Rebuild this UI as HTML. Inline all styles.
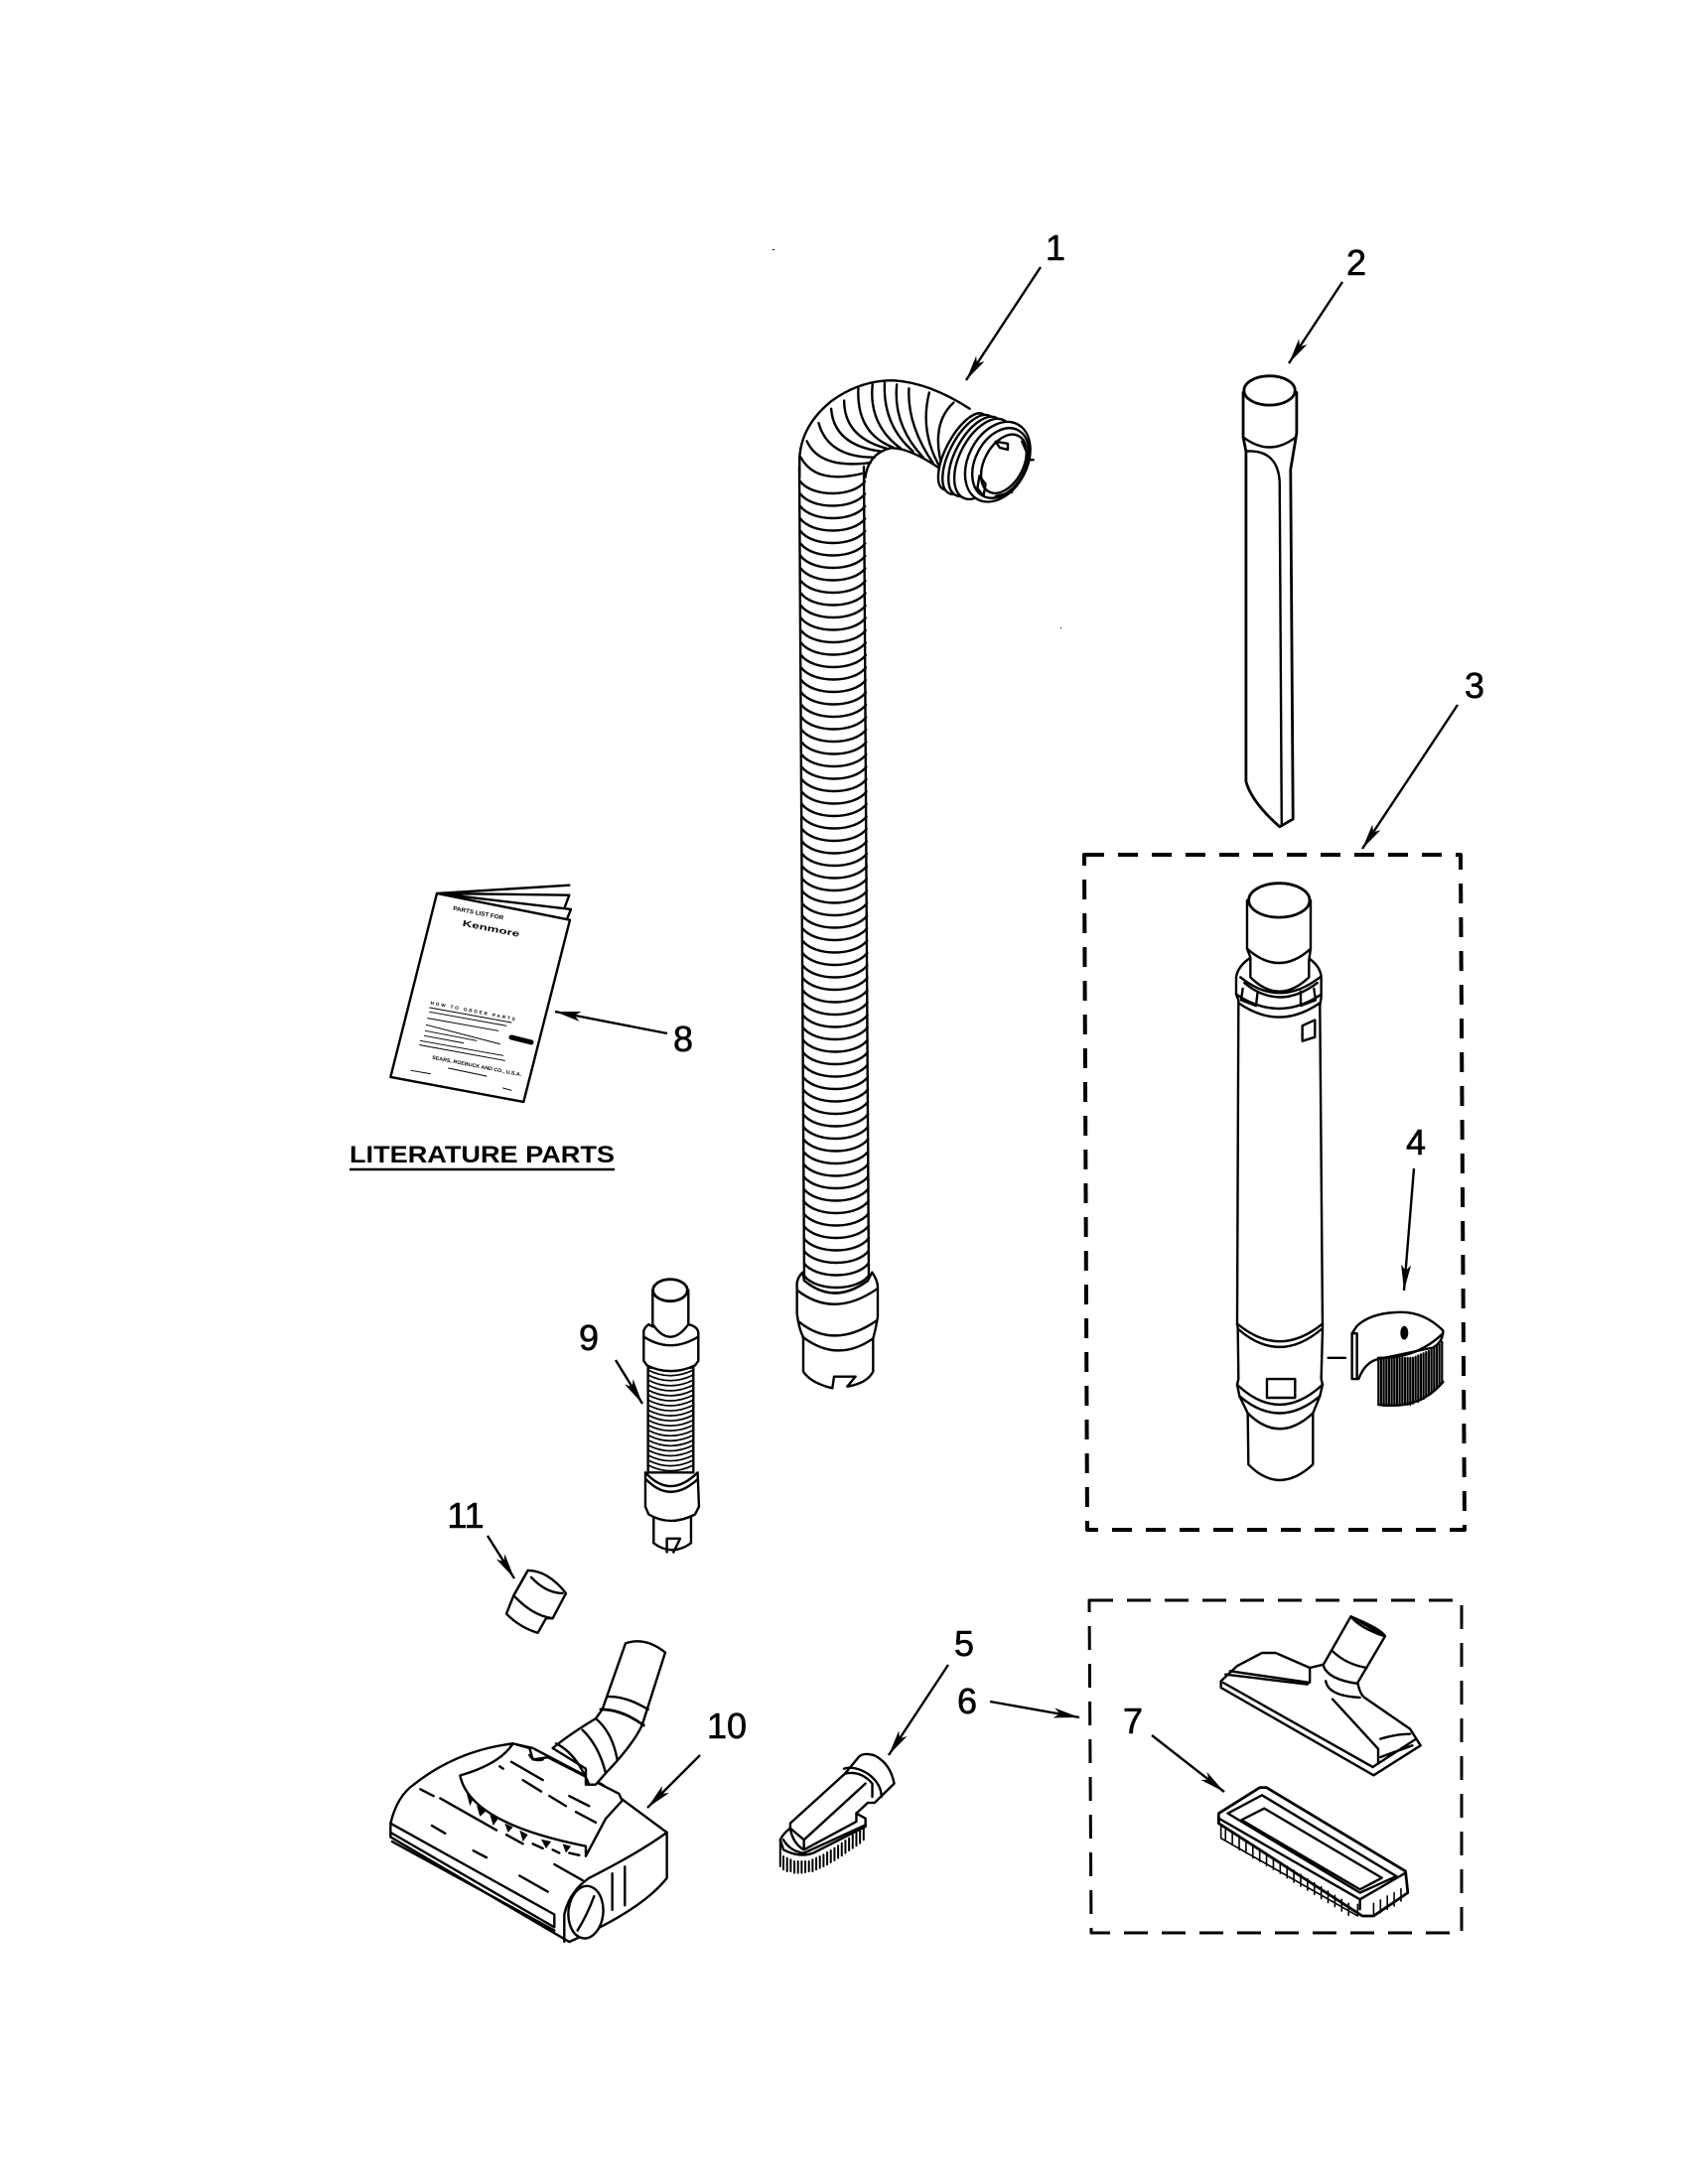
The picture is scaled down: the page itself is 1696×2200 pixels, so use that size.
<!DOCTYPE html>
<html><head><meta charset="utf-8"><style>
html,body{margin:0;padding:0;background:#fff}
svg{display:block}
path,line,ellipse,polygon,polyline,rect{vector-effect:non-scaling-stroke}
.l{fill:none;stroke:#000;stroke-width:2.4;stroke-linejoin:round;stroke-linecap:round}
.w{fill:#fff;stroke:#000;stroke-width:2.4;stroke-linejoin:round}
.t{font-family:"Liberation Sans",sans-serif;font-size:36px;text-anchor:middle;fill:#000;stroke:#000;stroke-width:.6}
.a{stroke:#000;stroke-width:2.4;fill:none;marker-end:url(#h)}
</style></head><body>
<svg xmlns="http://www.w3.org/2000/svg" width="1696" height="2200" viewBox="0 0 1696 2200">
<defs><marker id="h" markerUnits="userSpaceOnUse" markerWidth="26" markerHeight="12" refX="26" refY="6" orient="auto"><path d="M0 1L26 6L0 11L6 6z" fill="#000"/></marker></defs>
<rect width="1696" height="2200" fill="#fff"/>

<!-- arrows -->
<line class="a" x1="1048" y1="269" x2="973" y2="383"/>
<line class="a" x1="1352" y1="284" x2="1298" y2="366"/>
<line class="a" x1="1468" y1="710" x2="1372" y2="855"/>
<line class="a" x1="1424" y1="1177" x2="1414" y2="1300"/>
<line class="a" x1="672" y1="1041" x2="559" y2="1019"/>
<line class="a" x1="620" y1="1370" x2="647" y2="1414"/>
<line class="a" x1="491" y1="1547" x2="518" y2="1590"/>
<line class="a" x1="705" y1="1768" x2="652" y2="1821"/>
<line class="a" x1="955" y1="1677" x2="895" y2="1768"/>
<line class="a" x1="997" y1="1714" x2="1087" y2="1730"/>
<line class="a" x1="1160" y1="1748" x2="1233" y2="1805"/>

<!-- labels -->
<text class="t" x="1063" y="262">1</text>
<text class="t" x="1366" y="277">2</text>
<text class="t" x="1485" y="703">3</text>
<text class="t" x="1426" y="1163">4</text>
<text class="t" x="971" y="1668">5</text>
<text class="t" x="974" y="1726">6</text>
<text class="t" x="1141" y="1746">7</text>
<text class="t" x="688" y="1059">8</text>
<text class="t" x="593" y="1360">9</text>
<text class="t" x="732" y="1751">10</text>
<text class="t" x="469" y="1539">11</text>
<text x="352" y="1171" font-family="Liberation Sans,sans-serif" font-weight="bold" font-size="24" textLength="267" lengthAdjust="spacingAndGlyphs">LITERATURE PARTS</text>
<line x1="352" y1="1178" x2="619" y2="1178" stroke="#000" stroke-width="2.5"/>

<!-- specks -->
<rect x="778" y="251" width="2" height="1" fill="#000"/><rect x="1068" y="632" width="1" height="1" fill="#000"/>

<!-- dashed boxes -->
<path class="l" style="stroke-width:4;stroke-linecap:butt" stroke-dasharray="20 14" d="M1092 861H1471L1475 1541H1095Z"/>
<path class="l" style="stroke-width:3;stroke-linecap:butt" stroke-dasharray="24 14" d="M1097 1612H1472V1947H1099Z"/>

<!-- hose 1 straight -->
<path class="l" d="M805 470L810 1292M870 470L875 1292"/>
<path class="l" d="M806 485c12 16 53 16 65 0m-64.94 12.5c12 16 53 16 65 0m-64.94 12.5c12 16 53 16 65 0m-64.94 12.5c12 16 53 16 65 0m-64.94 12.5c12 16 53 16 65 0m-64.94 12.5c12 16 53 16 65 0m-64.94 12.5c12 16 53 16 65 0m-64.94 12.5c12 16 53 16 65 0m-64.94 12.5c12 16 53 16 65 0m-64.94 12.5c12 16 53 16 65 0m-64.94 12.5c12 16 53 16 65 0m-64.94 12.5c12 16 53 16 65 0m-64.94 12.5c12 16 53 16 65 0m-64.94 12.5c12 16 53 16 65 0m-64.94 12.5c12 16 53 16 65 0m-64.94 12.5c12 16 53 16 65 0m-64.94 12.5c12 16 53 16 65 0m-64.94 12.5c12 16 53 16 65 0m-64.94 12.5c12 16 53 16 65 0m-64.94 12.5c12 16 53 16 65 0m-64.94 12.5c12 16 53 16 65 0m-64.94 12.5c12 16 53 16 65 0m-64.94 12.5c12 16 53 16 65 0m-64.94 12.5c12 16 53 16 65 0m-64.94 12.5c12 16 53 16 65 0m-64.94 12.5c12 16 53 16 65 0m-64.94 12.5c12 16 53 16 65 0m-64.94 12.5c12 16 53 16 65 0m-64.94 12.5c12 16 53 16 65 0m-64.94 12.5c12 16 53 16 65 0m-64.94 12.5c12 16 53 16 65 0m-64.94 12.5c12 16 53 16 65 0m-64.94 12.5c12 16 53 16 65 0m-64.94 12.5c12 16 53 16 65 0m-64.94 12.5c12 16 53 16 65 0m-64.94 12.5c12 16 53 16 65 0m-64.94 12.5c12 16 53 16 65 0m-64.94 12.5c12 16 53 16 65 0m-64.94 12.5c12 16 53 16 65 0m-64.94 12.5c12 16 53 16 65 0m-64.94 12.5c12 16 53 16 65 0m-64.94 12.5c12 16 53 16 65 0m-64.94 12.5c12 16 53 16 65 0m-64.94 12.5c12 16 53 16 65 0m-64.94 12.5c12 16 53 16 65 0m-64.94 12.5c12 16 53 16 65 0m-64.94 12.5c12 16 53 16 65 0m-64.94 12.5c12 16 53 16 65 0m-64.94 12.5c12 16 53 16 65 0m-64.94 12.5c12 16 53 16 65 0m-64.94 12.5c12 16 53 16 65 0m-64.94 12.5c12 16 53 16 65 0m-64.94 12.5c12 16 53 16 65 0m-64.94 12.5c12 16 53 16 65 0m-64.94 12.5c12 16 53 16 65 0m-64.94 12.5c12 16 53 16 65 0m-64.94 12.5c12 16 53 16 65 0m-64.94 12.5c12 16 53 16 65 0m-64.94 12.5c12 16 53 16 65 0m-64.94 12.5c12 16 53 16 65 0m-64.94 12.5c12 16 53 16 65 0m-64.94 12.5c12 16 53 16 65 0m-64.94 12.5c12 16 53 16 65 0m-64.94 12.5c12 16 53 16 65 0m-64.94 12.5c12 16 53 16 65 0m-64.94 12.5c12 16 53 16 65 0"/>

<!-- hose bottom cuff: crop 5 -->
<g transform="matrix(.3333 0 0 .3333 740 1200)">
<path class="w" d="M205 245Q185 265 188 290V370Q195 420 207 440V545Q230 580 295 595L300 560H365L340 590Q400 580 418 545V445Q425 420 432 380V290Q432 270 415 245L402 270Q300 345 210 270Z"/>
<path class="l" d="M190 300Q300 385 430 295M195 395Q300 480 430 390M205 440Q310 520 418 445M210 270Q300 345 402 270"/>
</g>

<!-- hose bend + crevice tool: crop 1 -->
<g transform="matrix(.408 0 0 .408 740 220)">
<path class="l" d="M160 640V590Q165 510 240 450Q310 400 390 400Q480 405 580 470M322 640Q330 580 385 567Q430 565 510 620"/>
<path class="l" d="M163 590Q200 660 322 628M178 550Q210 620 335 603M207 505Q230 590 345 590M238 470Q245 560 360 575M270 450Q270 540 375 568M305 420Q300 530 390 565M340 410Q330 510 410 568M370 405Q365 510 440 575M400 410Q390 510 465 590M430 420Q425 510 490 605M480 430Q455 530 510 620M540 455Q480 510 515 625"/>
<g transform="translate(4 -4)">
<ellipse class="w" cx="560" cy="580" rx="42" ry="105" transform="rotate(28 560 580)"/>
<ellipse class="w" cx="575" cy="587" rx="48" ry="108" transform="rotate(28 575 587)"/>
<ellipse class="w" cx="592" cy="592" rx="52" ry="108" transform="rotate(28 592 592)"/>
<ellipse class="w" cx="610" cy="598" rx="58" ry="108" transform="rotate(28 610 598)"/>
<ellipse class="w" cx="645" cy="605" rx="72" ry="105" transform="rotate(28 645 605)"/>
<ellipse class="w" cx="652" cy="608" rx="62" ry="92" transform="rotate(28 652 608)"/>
<ellipse class="l" cx="660" cy="610" rx="48" ry="78" transform="rotate(28 660 610)"/>
<path class="l" d="M640 555L670 560V575L650 570ZM600 640L615 660L610 690L595 670ZM705 555L725 600H733M680 680L640 690"/>
</g>
<path class="w" style="stroke-width:2.8" d="M1255 430V540L1262 575V1390Q1275 1440 1345 1502L1378 1483L1372 620L1387 530V430Z"/>
<path class="l" d="M1255 540Q1320 590 1385 540M1262 575Q1340 570 1345 650L1350 1500"/>
<ellipse class="w" style="stroke-width:2.8" cx="1320" cy="425" rx="63" ry="36"/>
</g>

<!-- wand + clip: crop 2 -->
<g transform="matrix(.3333 0 0 .574 1060 640)">
<path class="w" d="M555 600Q560 580 600 565H770Q810 580 812 600V635L808 650L816 1208V1220L812 1305L816 1315L808 1335L787 1365V1455Q685 1510 592 1455L590 1365L565 1335L558 1315L562 1305L560 1215L558 1208L562 640L555 630Z"/>
<path class="w" d="M588 465V550L598 565V600Q685 650 775 600V570L780 550V465Z"/>
<ellipse class="w" style="stroke-width:2.8" cx="685" cy="465" rx="92" ry="30"/>
<path class="l" d="M588 550Q685 600 780 550M555 630Q685 680 812 630M562 645Q685 695 808 645M575 620L570 640L615 650L620 625M750 625L750 650L795 640L790 620M558 1208Q685 1270 816 1208M562 1218Q685 1280 812 1218M558 1315Q685 1385 816 1315M565 1335Q685 1395 808 1335M590 1365Q685 1420 787 1365M580 610Q685 660 800 610M568 600Q685 655 808 600"/>
<path class="l" d="M755 685L793 675V705L755 712ZM648 1305H733V1338H648ZM833 1268H885"/>
<path class="w" d="M905 1225V1305H925Q945 1275 985 1270L1150 1250Q1180 1240 1180 1220Q1120 1185 1040 1188Q960 1190 920 1212Z"/>
<path class="l" d="M905 1225H920V1305"/>
<ellipse cx="1063" cy="1224" rx="12" ry="12" fill="#000"/>
<path class="l" style="stroke-width:2.2" d="M985 1268V1350M993 1268V1351M1001 1268V1352M1009 1268V1352M1017 1268V1352M1025 1268V1352M1033 1268V1352M1041 1268V1350M1049 1268V1350M1057 1268V1350M1065 1268V1350M1073 1268V1350M1081 1268V1350M1089 1268V1348M1097 1266V1345M1105 1264V1345M1113 1262V1342M1121 1260V1340M1129 1258V1335M1137 1256V1332M1145 1254V1330M1153 1252V1326M1161 1248V1322M1169 1244V1316M1177 1240V1310"/>
<path class="l" d="M985 1268Q1100 1270 1180 1225M985 1350Q1110 1360 1180 1310"/>
</g>

<!-- booklet: crop 3 -->
<g transform="matrix(.3333 0 0 .3333 340 860)">
<path class="l" d="M300 120L700 95M300 120L700 125L685 165M300 120L705 168L692 200"/>
<path class="w" d="M300 120L160 675L562 750L702 200Z"/>
<g font-family="Liberation Sans,sans-serif" font-weight="bold">
<text transform="translate(348 170) rotate(11)" font-size="18" textLength="155" lengthAdjust="spacingAndGlyphs">PARTS LIST FOR</text>
<text transform="translate(376 218) rotate(11)" font-size="26" textLength="175" lengthAdjust="spacingAndGlyphs">Kenmore</text>
<text transform="translate(280 455) rotate(11)" font-size="14" textLength="260" lengthAdjust="spacing">HOW TO ORDER PARTS</text>
<text transform="translate(285 620) rotate(11)" font-size="15" textLength="275" lengthAdjust="spacingAndGlyphs">SEARS, ROEBUCK AND CO., U.S.A.</text>
</g>
<path class="l" style="stroke-width:1" d="M278 465L525 510M278 478L510 520M272 497L485 535M268 517L490 575M265 535L420 565M262 550L380 572M250 565L500 610M248 578L505 625M335 648L450 672M222 655L280 665M500 708L525 715"/>
<path class="l" style="stroke-width:5" d="M525 555L585 570"/>
</g>

<!-- flex 9, adapter 11, nozzle 10: crop 4 -->
<g transform="matrix(.3333 0 0 .459 360 1240)">
<path class="w" d="M878 300V530H1015V300Z"/>
<path class="l" style="stroke-width:1.7" d="M878 305Q945 330 1015 305M878 316Q945 341 1015 316M878 327Q945 352 1015 327M878 338Q945 363 1015 338M878 349Q945 374 1015 349M878 360Q945 385 1015 360M878 371Q945 396 1015 371M878 382Q945 407 1015 382M878 393Q945 418 1015 393M878 404Q945 429 1015 404M878 415Q945 440 1015 415M878 426Q945 451 1015 426M878 437Q945 462 1015 437M878 448Q945 473 1015 448M878 459Q945 484 1015 459M878 470Q945 495 1015 470M878 481Q945 506 1015 481M878 492Q945 517 1015 492M878 503Q945 528 1015 503M878 514Q945 539 1015 514"/>
<path class="w" d="M892 130V210L880 205Q862 215 865 225V285L875 295Q945 320 1020 295L1030 285V225Q1030 210 1000 205V130Z"/>
<path class="l" d="M892 205Q945 260 1000 205M865 232Q945 270 1030 232"/>
<ellipse class="w" style="stroke-width:2.8" cx="945" cy="130" rx="52" ry="24"/>
<path class="w" d="M895 625V685Q950 715 1008 685V625Z"/>
<path class="l" d="M935 705V675H975L955 705"/>
<path class="w" d="M870 530V605L880 622Q945 650 1020 622L1032 605L1028 530Q945 590 870 530Z"/>
<path class="l" d="M872 545Q945 600 1028 545"/>
<path class="w" d="M515 745Q575 745 630 795L590 850L570 850L545 882Q490 870 450 840L472 800Z"/>
<path class="l" d="M515 745L472 800Q530 845 590 850M525 760Q570 795 620 795"/>
<path class="w" d="M100 1300Q120 1240 170 1215Q300 1140 470 1125L530 1135L740 1215L935 1320V1420Q860 1490 640 1560L100 1330Z"/>
<path class="l" d="M100 1300L595 1500V1528L100 1320M105 1340L595 1535M935 1320Q850 1365 700 1420Q640 1450 625 1500V1560"/>
<ellipse class="w" cx="690" cy="1495" rx="52" ry="58" transform="rotate(20 690 1495)"/>
<path class="l" d="M715 1460Q695 1500 665 1535M770 1410V1490M808 1395V1480"/>
<path class="w" d="M310 1195Q430 1170 470 1125L520 1135L530 1160L575 1155L790 1235L800 1250L750 1290L690 1372L690 1350Q340 1300 310 1195Z"/>
<path class="w" d="M590 1135Q640 1105 720 1070L740 1050L810 905Q870 890 930 925L860 1085Q830 1130 750 1190L720 1215L690 1215L690 1180L590 1135Z"/>
<path class="l" style="stroke-width:2.8" d="M735 1050Q800 1050 865 1085"/>
<path class="l" d="M755 1022Q810 1020 878 1050M600 1125Q660 1145 700 1215M680 1095Q730 1130 750 1190M720 1070Q770 1100 785 1160M520 1150Q530 1165 560 1160"/>
<path class="l" d="M190 1225L230 1240M250 1245L420 1315M430 1175L440 1180M465 1165L560 1205M500 1205L555 1230M580 1240L630 1262M640 1240L700 1262M660 1275L720 1298M225 1305L265 1322M350 1360L390 1375M490 1415L575 1450M595 1390L680 1425M450 1325L500 1345M530 1345L560 1355M590 1358L610 1365M640 1365L670 1370"/>
<path d="M330 1235L350 1245L340 1262ZM360 1260L390 1272L370 1285ZM400 1280L425 1290L410 1305ZM445 1300L470 1308L455 1320ZM490 1315L515 1325L500 1340ZM555 1335L585 1340L570 1355ZM620 1345L645 1350L630 1365Z" fill="#000"/>
</g>

<!-- brush 5 + floor tool + brush 7: crop 6 -->
<g transform="matrix(.459 0 0 .3333 750 1570)">
<path class="l" style="stroke-width:2" d="M78 850V930M85 900V940M93 905V945M101 910V945M109 915V950M117 915V950M125 915V950M133 915V948M141 915V945M149 910V945M157 905V940M165 900V935M173 895V930M181 888V925M189 882V918M197 875V912M205 868V905M213 860V898M221 852V890M229 845V882M237 835V875M245 828V868M253 820V860M261 810V850"/>
<path class="w" d="M78 850Q85 830 100 815V800L220 650L250 600Q260 585 285 595Q320 620 328 680L285 738H270L245 770L265 785V810L150 890Q120 905 85 880Z"/>
<path class="l" d="M220 650Q255 640 280 680L280 720M218 635Q240 625 270 650Q300 680 300 720M100 815L130 850L265 680M130 850V880M100 815Q105 860 130 880L245 795V770M85 850Q100 885 130 890L265 805"/>
<path class="w" d="M1330 175L1405 235L1345 375Q1350 410 1360 420L1460 515L1483 565L1380 655L1045 390V370L1080 325L1135 285H1165L1240 330L1270 320Z"/>
<path class="l" d="M1330 175Q1400 215 1405 235Q1350 210 1330 175ZM1290 280Q1320 320 1365 330M1270 325Q1280 365 1345 378M1275 370Q1280 415 1350 420M1240 330V370M1065 340L1240 375M1055 350L1235 380M1050 375L1378 630M1290 425L1390 575V620M1378 630L1470 548M1395 545Q1430 530 1460 530M1395 600L1465 565"/>
<path class="w" style="stroke-width:2.8" d="M1040 770L1130 692H1145L1450 945L1455 1010L1380 1080H1355L1040 800Z"/>
<path class="l" d="M1060 770L1135 715L1430 960L1350 1010ZM1090 790L1140 755L1398 965L1350 1000ZM1040 785L1350 1030L1450 950M1350 1030V1060"/>
<path class="l" style="stroke-width:1.6" d="M1045 810V845L1345 1080V1045M1055 820V852M1070 830V862M1085 845V880M1100 855V890M1115 870V905M1130 880V915M1145 892V928M1160 905V940M1175 918V952M1190 930V965M1205 942V978M1220 955V990M1235 968V1002M1250 980V1015M1265 992V1028M1280 1005V1040M1295 1018V1052M1310 1030V1065M1325 1042V1078M1380 1042V1080M1395 1032V1070M1410 1020V1060M1425 1010V1050M1440 998V1035"/>
</g>
</svg>
</body></html>
